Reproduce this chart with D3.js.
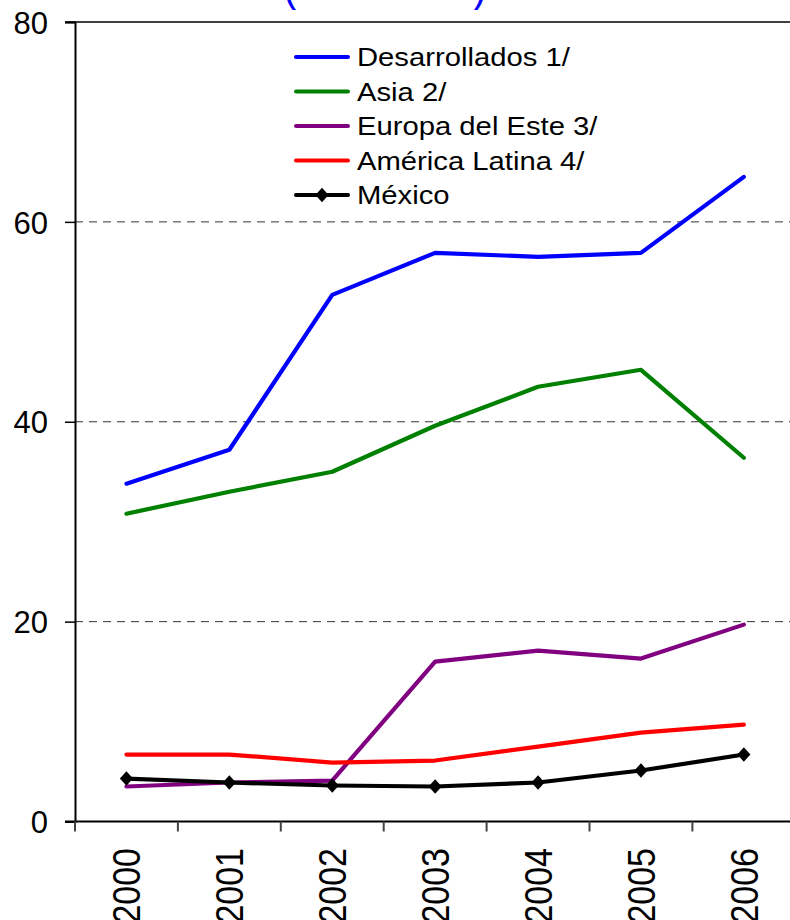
<!DOCTYPE html>
<html>
<head>
<meta charset="utf-8">
<script src="https://cdn.jsdelivr.net/npm/d3@7/dist/d3.min.js"></script>
<style>
  html, body { margin: 0; padding: 0; background: #fff; }
  svg { display: block; font-family: "Liberation Sans", Arial, sans-serif; }
</style>
</head>
<body>
<svg id="chart" width="790" height="920"></svg>
<script>
// Years on the category axis
const years = ["2000", "2001", "2002", "2003", "2004", "2005", "2006"];

// Series values (per cent)
const desarrollados = [33.8, 37.2, 52.7, 56.9, 56.5, 56.9, 64.5];
const asia          = [30.8, 33.0, 35.0, 39.6, 43.5, 45.2, 36.4];
const europaEste    = [3.5, 3.9, 4.1, 16.0, 17.1, 16.3, 19.7];
const americaLatina = [6.7, 6.7, 5.9, 6.1, 7.5, 8.9, 9.7];
const mexico        = [4.3, 3.9, 3.6, 3.5, 3.9, 5.1, 6.7];

const seriesNames = ["Desarrollados 1/", "Asia 2/", "Europa del Este 3/", "América Latina 4/", "México"];
const seriesColors = ["#0000ff", "#008000", "#800080", "#ff0000", "#000000"];
const yTicks = [0, 20, 40, 60, 80];
const titleText = "(Por ciento)";

const series = [desarrollados, asia, europaEste, americaLatina, mexico].map((values, i) => ({
  name: seriesNames[i],
  color: seriesColors[i],
  marker: i === 4,
  values
}));

const svg = d3.select("#chart");
const plotLeft = 75, plotTop = 22, plotBottom = 821.5, bandW = 102.9;

const x = d3.scaleBand().domain(years).range([plotLeft, plotLeft + bandW * years.length]).padding(0);
const y = d3.scaleLinear().domain([0, 80]).range([plotBottom, plotTop]);
const cx = d => x(d) + x.bandwidth() / 2;

// Title (sits above the top edge; only the parentheses' tails reach into view)
svg.append("text")
  .attr("x", 283).attr("y", 0)
  .attr("textLength", 204).attr("lengthAdjust", "spacingAndGlyphs")
  .attr("font-size", 46).attr("fill", "#0000ff")
  .text(titleText);

// Dashed gridlines
svg.append("g")
  .selectAll("line")
  .data(yTicks.filter(t => t > 0 && t < 80))
  .join("line")
  .attr("x1", plotLeft).attr("x2", 790)
  .attr("y1", d => y(d)).attr("y2", d => y(d))
  .attr("stroke", "#333").attr("stroke-width", 1)
  .attr("stroke-dasharray", "8,6");

// Top border of the plot
svg.append("line")
  .attr("x1", plotLeft - 10).attr("x2", 790)
  .attr("y1", y(80)).attr("y2", y(80))
  .attr("stroke", "#000").attr("stroke-width", 1.5);

// Y axis
const yAxis = d3.axisLeft(y).tickValues(yTicks).tickSize(10).tickPadding(17).tickFormat(d3.format("d"));
const gy = svg.append("g").attr("transform", `translate(${plotLeft},0)`).call(yAxis);
gy.select(".domain").attr("stroke", "#000").attr("stroke-width", 2);
gy.selectAll(".tick line").attr("stroke", "#000").attr("stroke-width", 1.5);
gy.selectAll(".tick text")
  .attr("font-size", 31).attr("fill", "#000")
  .attr("font-family", "'Liberation Sans', Arial, sans-serif")
  .attr("dy", "0.36em");

// X axis: ticks at category boundaries, labels rotated
svg.append("line")
  .attr("x1", plotLeft - 10).attr("x2", 790)
  .attr("y1", plotBottom).attr("y2", plotBottom)
  .attr("stroke", "#000").attr("stroke-width", 2);

svg.append("g")
  .selectAll("line")
  .data(years)
  .join("line")
  .attr("x1", d => x(d)).attr("x2", d => x(d))
  .attr("y1", plotBottom).attr("y2", plotBottom + 10)
  .attr("stroke", "#444").attr("stroke-width", 2);

svg.append("g")
  .selectAll("text")
  .data(years)
  .join("text")
  .attr("transform", d => `translate(${cx(d) + 14},848) rotate(-90) scale(1,1.13)`)
  .attr("text-anchor", "end")
  .attr("font-size", 34).attr("fill", "#000")
  .text(d => d);

// Series lines
const line = d3.line().x((v, i) => cx(years[i])).y(v => y(v));
const diamond = d3.symbol().type(d3.symbolDiamond2).size(110);

const gs = svg.append("g");
series.forEach(s => {
  gs.append("path")
    .attr("d", line(s.values))
    .attr("fill", "none")
    .attr("stroke", s.color)
    .attr("stroke-width", 4.2)
    .attr("stroke-linejoin", "round")
    .attr("stroke-linecap", "round");
  if (s.marker) {
    gs.selectAll(null)
      .data(s.values)
      .join("path")
      .attr("d", diamond)
      .attr("transform", (v, i) => `translate(${cx(years[i])},${y(v)}) scale(1,1.1)`)
      .attr("fill", s.color);
  }
});

// Legend
const leg = svg.append("g");
series.forEach((s, i) => {
  const ly = 57 + i * 34.5;
  leg.append("line")
    .attr("x1", 296).attr("x2", 348)
    .attr("y1", ly).attr("y2", ly)
    .attr("stroke", s.color).attr("stroke-width", 4)
    .attr("stroke-linecap", "round");
  if (s.marker) {
    leg.append("path")
      .attr("d", diamond)
      .attr("transform", `translate(322,${ly}) scale(1,1.1)`)
      .attr("fill", s.color);
  }
  leg.append("text")
    .attr("transform", `translate(357,${ly + 9}) scale(1.17,1)`)
    .attr("font-size", 25).attr("fill", "#000")
    .text(s.name);
});
</script>
</body>
</html>
